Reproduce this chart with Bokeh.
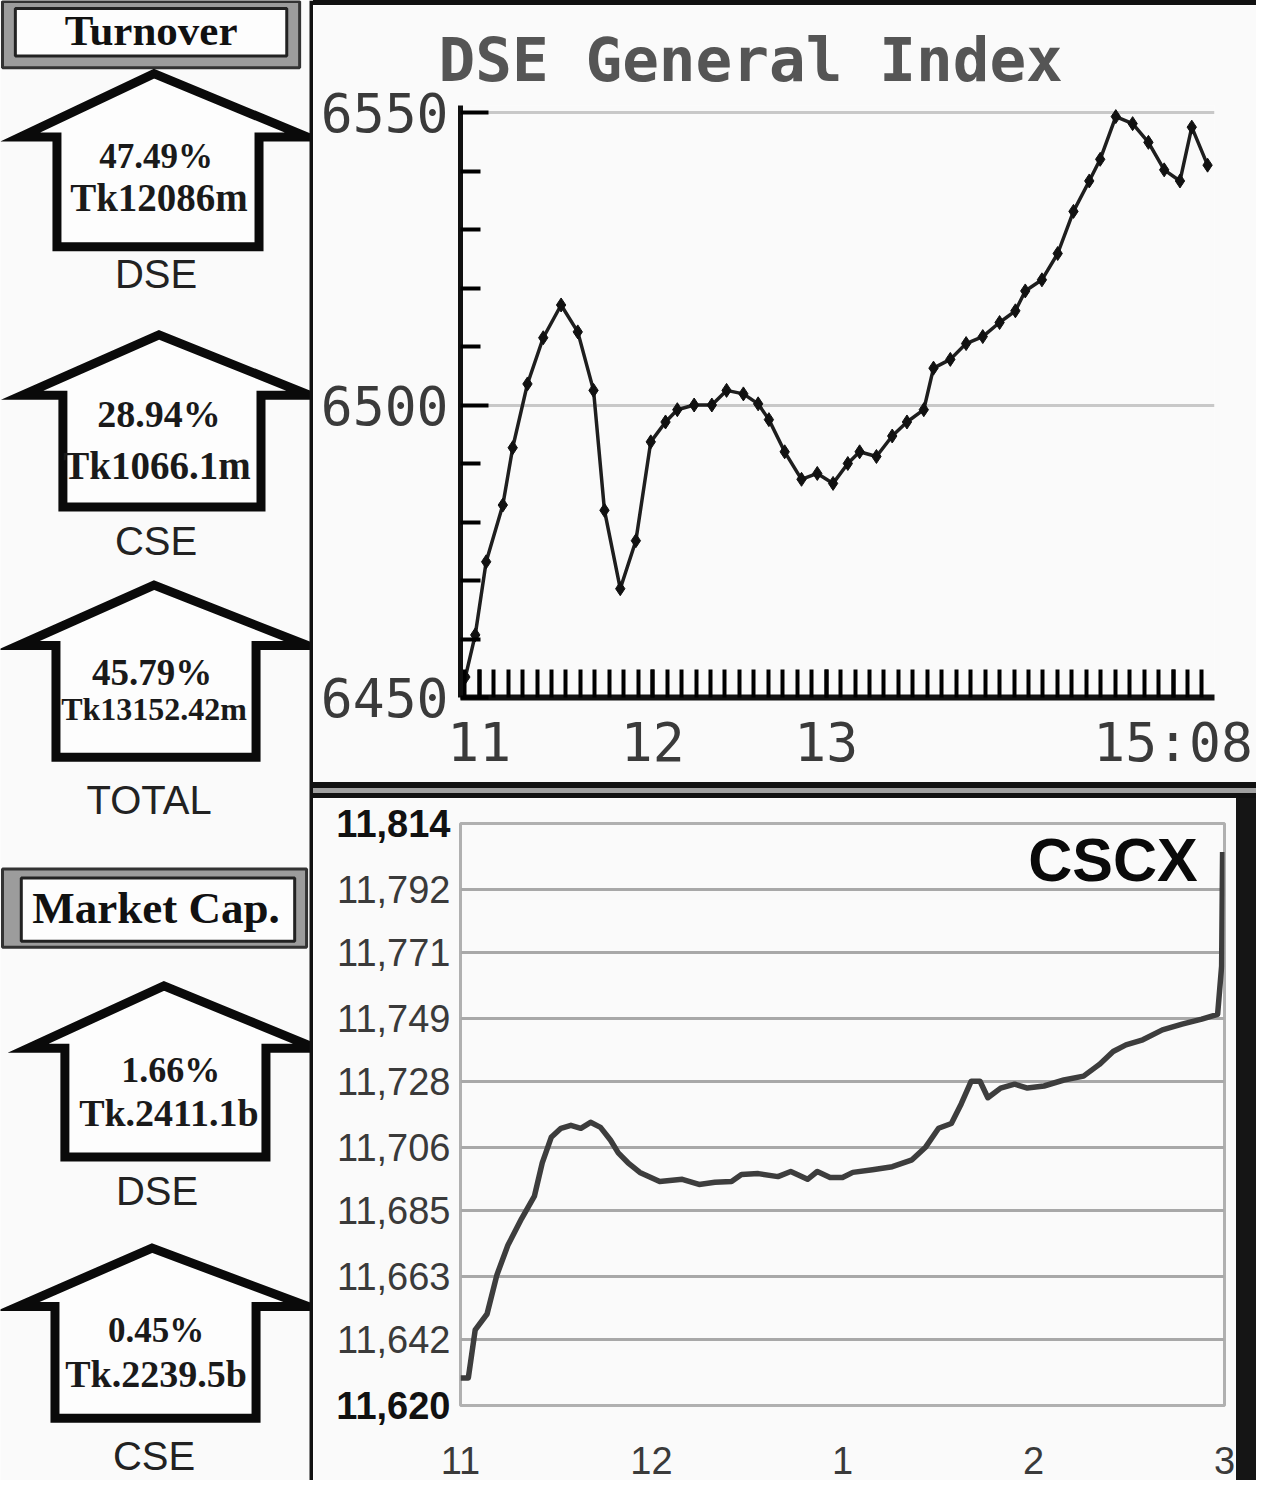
import numpy as np
from bokeh.plotting import figure
from bokeh.models import FixedTicker, Label, Spacer, ColumnDataSource, LinearAxis
from bokeh.layouts import row, column
from bokeh.embed import file_html
from bokeh.resources import INLINE
from bokeh.core.properties import value

# ---------------- data ----------------
turnover_header = "Turnover"
turnover_market = ["DSE", "CSE", "TOTAL"]
turnover_change = ["47.49%", "28.94%", "45.79%"]
turnover_amount = ["Tk12086m", "Tk1066.1m", "Tk13152.42m"]

mcap_header = "Market Cap."
mcap_market = ["DSE", "CSE"]
mcap_change = ["1.66%", "0.45%"]
mcap_amount = ["Tk.2411.1b", "Tk.2239.5b"]

dse_title = "DSE General Index"
dse_time = [10.920, 10.977, 11.040, 11.136, 11.193, 11.278, 11.369, 11.472, 11.568, 11.659,
            11.722, 11.813, 11.903, 11.989, 12.074, 12.142, 12.239, 12.341, 12.426, 12.523,
            12.608, 12.670, 12.761, 12.858, 12.949, 13.040, 13.125, 13.193, 13.290, 13.381,
            13.466, 13.563, 13.619, 13.716, 13.807, 13.903, 14.000, 14.091, 14.148, 14.244,
            14.335, 14.426, 14.517, 14.580, 14.670, 14.767, 14.858, 14.949, 15.040, 15.108,
            15.199]
dse_index = [6453.5, 6460.7, 6473.2, 6482.9, 6492.7, 6503.6, 6511.5, 6517.1, 6512.5, 6502.5,
             6482.0, 6468.6, 6476.8, 6493.7, 6497.1, 6499.2, 6500.0, 6500.0, 6502.5, 6501.9,
             6500.2, 6497.5, 6492.0, 6487.3, 6488.3, 6486.6, 6490.0, 6492.0, 6491.2, 6494.7,
             6497.1, 6499.2, 6506.3, 6507.8, 6510.5, 6511.7, 6514.1, 6516.1, 6519.5, 6521.4,
             6525.9, 6533.1, 6538.3, 6542.0, 6549.3, 6548.1, 6544.9, 6540.2, 6538.3, 6547.5,
             6541.0]
dse_y_ticks = [6450, 6500, 6550]
dse_y_minor = [6460, 6470, 6480, 6490, 6510, 6520, 6530, 6540]
dse_x_ticks = [11, 12, 13, 15]
dse_x_labels = ["11", "12", "13", "15:08"]

cscx_title = "CSCX"
cscx_time = [11.000, 11.041, 11.077, 11.139, 11.191, 11.248, 11.320, 11.387, 11.428, 11.475,
             11.526, 11.578, 11.630, 11.681, 11.733, 11.785, 11.826, 11.877, 11.939, 12.043,
             12.161, 12.249, 12.332, 12.419, 12.471, 12.559, 12.662, 12.729, 12.817, 12.868,
             12.935, 13.000, 13.054, 13.157, 13.261, 13.364, 13.436, 13.503, 13.570, 13.622,
             13.674, 13.720, 13.761, 13.828, 13.901, 13.968, 14.055, 14.159, 14.262, 14.345,
             14.417, 14.484, 14.572, 14.675, 14.778, 14.881, 14.964, 14.985, 14.990]
cscx_index = [11629.2, 11629.2, 11645.2, 11650.5, 11663.6, 11673.4, 11682.3, 11689.8, 11700.9, 11709.4,
              11712.4, 11713.4, 11712.4, 11714.4, 11712.7, 11708.5, 11704.2, 11700.9, 11697.7, 11694.7,
              11695.4, 11693.7, 11694.4, 11694.7, 11697.0, 11697.3, 11696.3, 11698.0, 11695.4, 11698.0,
              11696.0, 11696.0, 11697.7, 11698.6, 11699.6, 11701.9, 11706.2, 11712.4, 11714.0, 11720.6,
              11728.1, 11728.1, 11722.6, 11725.8, 11727.1, 11725.8, 11726.5, 11728.5, 11729.8, 11733.7,
              11738.0, 11740.2, 11741.9, 11745.2, 11747.1, 11748.8, 11750.4, 11766.5, 11804.5]
cscx_y_ticks = [11620, 11642, 11663, 11685, 11706, 11728, 11749, 11771, 11792, 11814]
cscx_y_labels = ["11,620", "11,642", "11,663", "11,685", "11,706", "11,728", "11,749", "11,771", "11,792", "11,814"]
cscx_x_ticks = [11, 12, 13, 14, 15]
cscx_x_labels = ["11", "12", "1", "2", "3"]

BG = "#fafafa"

# ---------------- left panel ----------------
L = figure(width=313, height=1480, x_range=(0, 316), y_range=(1496, 0),
           output_backend="svg", toolbar_location=None, min_border=0,
           x_axis_location=None, y_axis_location=None)
L.grid.visible = False
L.outline_line_color = None
L.background_fill_color = BG
L.border_fill_color = BG

# header boxes (outer grey frame + inner white box)
L.quad(left=[2, 2], right=[302, 309], top=[1, 878], bottom=[68, 957],
       fill_color="#9c9c9c", line_color="#333333", line_width=3)
L.quad(left=[15, 21], right=[289, 297], top=[8, 887], bottom=[56, 951],
       fill_color="#fdfdfd", line_color="#222222", line_width=3)
L.text(x=[152, 157], y=[30, 917], text=[turnover_header, mcap_header],
       text_font=value("Liberation Serif"), text_font_style="bold",
       text_font_size=["43px", "45px"], text_align="center", text_baseline="middle",
       text_color="#111111")

# house-shaped up arrows: (apex_x, apex_y, eave_y, tipL, tipR, bodyL, bodyR, bottom)
houses = [
    (155, 74, 138, 20, 310, 57, 261, 249),
    (160, 338, 399, 22, 312, 63, 263, 512),
    (155, 591, 652, 18, 310, 56, 258, 765),
    (165, 996, 1059, 28, 318, 65, 268, 1169),
    (153, 1261, 1320, 18, 310, 55, 258, 1433),
]
xs, ys = [], []
for ax, ay, ey, tl, tr, bl, br, bb in houses:
    xs.append([bl, bl, tl, ax, tr, br, br])
    ys.append([bb, ey, ey, ay, ey, ey, bb])
L.patches(xs, ys, fill_color="#fdfdfd", line_color="#0a0a0a", line_width=9, line_join="miter")

changes = turnover_change + mcap_change
amounts = turnover_amount + mcap_amount
markets = turnover_market + mcap_market
chg_pos = [(157, 158), (160, 418), (153, 679), (172, 1081), (157, 1344)]
amt_pos = [(160, 199), (158, 470), (155, 716), (170, 1125), (157, 1388)]
mkt_pos = [(157, 276), (157, 546), (150, 808), (158, 1203), (155, 1471)]
chg_size = ["35px", "38px", "37px", "36px", "35px"]
amt_size = ["39px", "39px", "32px", "38px", "38px"]

L.text(x=[p[0] for p in chg_pos], y=[p[1] for p in chg_pos], text=changes,
       text_font=value("Liberation Serif"), text_font_style="bold", text_font_size=chg_size,
       text_align="center", text_baseline="middle", text_color="#1a1a1a")
L.text(x=[p[0] for p in amt_pos], y=[p[1] for p in amt_pos], text=amounts,
       text_font=value("Liberation Serif"), text_font_style="bold", text_font_size=amt_size,
       text_align="center", text_baseline="middle", text_color="#1a1a1a")
L.text(x=[p[0] for p in mkt_pos], y=[p[1] for p in mkt_pos], text=markets,
       text_font=value("Liberation Sans"), text_font_size="40px",
       text_align="center", text_baseline="middle", text_color="#222222")
L.segment(x0=[314.5], y0=[0], x1=[314.5], y1=[1496], line_width=5, line_color="#111111")

# ---------------- DSE General Index ----------------
T = figure(width=943, height=777, x_range=(10.892, 15.239), y_range=(6450, 6551.2),
           output_backend="svg", toolbar_location=None,
           min_border_left=147, min_border_right=42, min_border_top=100, min_border_bottom=85)
T.background_fill_color = BG
T.border_fill_color = BG
T.outline_line_color = None
T.xgrid.visible = False
T.ygrid.grid_line_color = "#c8c8c8"
T.ygrid.grid_line_width = 3

T.title.text = dse_title
T.title.text_font = "DejaVu Sans Mono"
T.title.text_font_style = "bold"
T.title.text_font_size = "61px"
T.title.text_color = "#555555"
T.title.align = "left"
T.title.offset = -22
T.title.standoff = 22

T.yaxis.ticker = FixedTicker(ticks=dse_y_ticks, minor_ticks=dse_y_minor)
T.yaxis.axis_line_width = 5
T.yaxis.axis_line_color = "#111111"
T.yaxis.major_tick_in = 28
T.yaxis.major_tick_out = 0
T.yaxis.major_tick_line_width = 4
T.yaxis.minor_tick_in = 20
T.yaxis.minor_tick_out = 0
T.yaxis.minor_tick_line_width = 4
T.yaxis.major_label_standoff = 12
T.yaxis.major_label_text_font = "DejaVu Sans Mono"
T.yaxis.major_label_text_font_size = "53px"
T.yaxis.major_label_text_color = "#3a3a3a"

five_min = list(np.arange(10 + 55 / 60, 15.25, 1 / 12))
T.xaxis.ticker = FixedTicker(ticks=dse_x_ticks, minor_ticks=five_min)
T.xaxis.major_label_overrides = dict(zip(dse_x_ticks, dse_x_labels))
T.xaxis.axis_line_width = 6
T.xaxis.axis_line_color = "#111111"
T.xaxis.major_tick_in = 28
T.xaxis.major_tick_out = 0
T.xaxis.major_tick_line_width = 4
T.xaxis.minor_tick_in = 28
T.xaxis.minor_tick_out = 0
T.xaxis.minor_tick_line_width = 4
T.xaxis.major_label_standoff = 14
T.xaxis.major_label_text_font = "DejaVu Sans Mono"
T.xaxis.major_label_text_font_size = "53px"
T.xaxis.major_label_text_color = "#3a3a3a"

src_dse = ColumnDataSource(dict(t=dse_time, v=dse_index))
T.line("t", "v", source=src_dse, line_color="#1e1e1e", line_width=3.5)
T.scatter("t", "v", source=src_dse, marker="diamond", size=14, color="#111111")

# ---------------- CSCX ----------------
B_H, B_TOP, B_BOT = 682, 25, 75
LBL_PX = 38
B = figure(width=923, height=B_H, x_range=(11, 15), y_range=(11620, 11814),
           output_backend="svg", toolbar_location=None,
           min_border_left=147, min_border_right=12, min_border_top=B_TOP, min_border_bottom=B_BOT)
B.background_fill_color = BG
B.border_fill_color = BG
B.outline_line_color = "#b0b0b0"
B.outline_line_width = 3
B.xgrid.visible = False
B.ygrid.grid_line_color = "#a8a8a8"
B.ygrid.grid_line_width = 3

ylab = dict(zip(cscx_y_ticks, cscx_y_labels))
ylab[cscx_y_ticks[0]] = ""
ylab[cscx_y_ticks[-1]] = ""
B.yaxis.ticker = FixedTicker(ticks=cscx_y_ticks)
B.yaxis.major_label_overrides = ylab
B.yaxis.axis_line_color = None
B.yaxis.major_tick_line_color = None
B.yaxis.minor_tick_line_color = None
B.yaxis.major_tick_out = 0
B.yaxis.minor_tick_out = 0
B.yaxis.major_tick_in = 0
B.yaxis.minor_tick_in = 0
B.yaxis.major_label_standoff = 10
B.yaxis.major_label_text_font = "Liberation Sans"
B.yaxis.major_label_text_font_size = f"{LBL_PX}px"
B.yaxis.major_label_text_color = "#3a3a3a"

# bold end labels: a second left axis, pulled back over the first one
label_w = round(3.058 * LBL_PX)  # width of an "11,xxx" label
ends = [cscx_y_ticks[0], cscx_y_ticks[-1]]
ax_bold = LinearAxis(ticker=FixedTicker(ticks=ends),
                     major_label_overrides={t: dict(zip(cscx_y_ticks, cscx_y_labels))[t] for t in ends})
ax_bold.axis_line_color = None
ax_bold.major_tick_line_color = None
ax_bold.minor_tick_line_color = None
ax_bold.major_tick_out = 0
ax_bold.minor_tick_out = 0
ax_bold.major_tick_in = 0
ax_bold.minor_tick_in = 0
ax_bold.major_label_standoff = -label_w
ax_bold.major_label_text_font = "Liberation Sans"
ax_bold.major_label_text_font_style = "bold"
ax_bold.major_label_text_font_size = f"{LBL_PX}px"
ax_bold.major_label_text_color = "#111111"
B.add_layout(ax_bold, "left")

B.xaxis.ticker = FixedTicker(ticks=cscx_x_ticks)
B.xaxis.major_label_overrides = dict(zip(cscx_x_ticks, cscx_x_labels))
B.xaxis.axis_line_color = None
B.xaxis.major_tick_line_color = None
B.xaxis.minor_tick_line_color = None
B.xaxis.major_label_standoff = 35
B.xaxis.major_label_text_font = "Liberation Sans"
B.xaxis.major_label_text_font_size = f"{LBL_PX}px"
B.xaxis.major_label_text_color = "#3a3a3a"

src_cscx = ColumnDataSource(dict(t=cscx_time, v=cscx_index))
B.line("t", "v", source=src_cscx, line_color="#3d3d3d", line_width=5.5, line_join="round")
B.add_layout(Label(x=14.86, y=11802, text=cscx_title, text_align="right",
                   text_baseline="alphabetic", text_font="Liberation Sans",
                   text_font_style="bold", text_font_size="61px", text_color="#0a0a0a"))

# ---------------- layout ----------------
right = column(
    Spacer(width=943, height=5, styles={"background-color": "#111111"}),
    T,
    Spacer(width=943, height=6, styles={"background-color": "#111111"}),
    Spacer(width=943, height=5, styles={"background-color": "#a0a0a0"}),
    Spacer(width=943, height=5, styles={"background-color": "#111111"}),
    row(B, Spacer(width=20, height=B_H, styles={"background-color": "#151515"})),
)
layout = row(L, right)

open("out.html", "w").write(file_html(layout, INLINE))
